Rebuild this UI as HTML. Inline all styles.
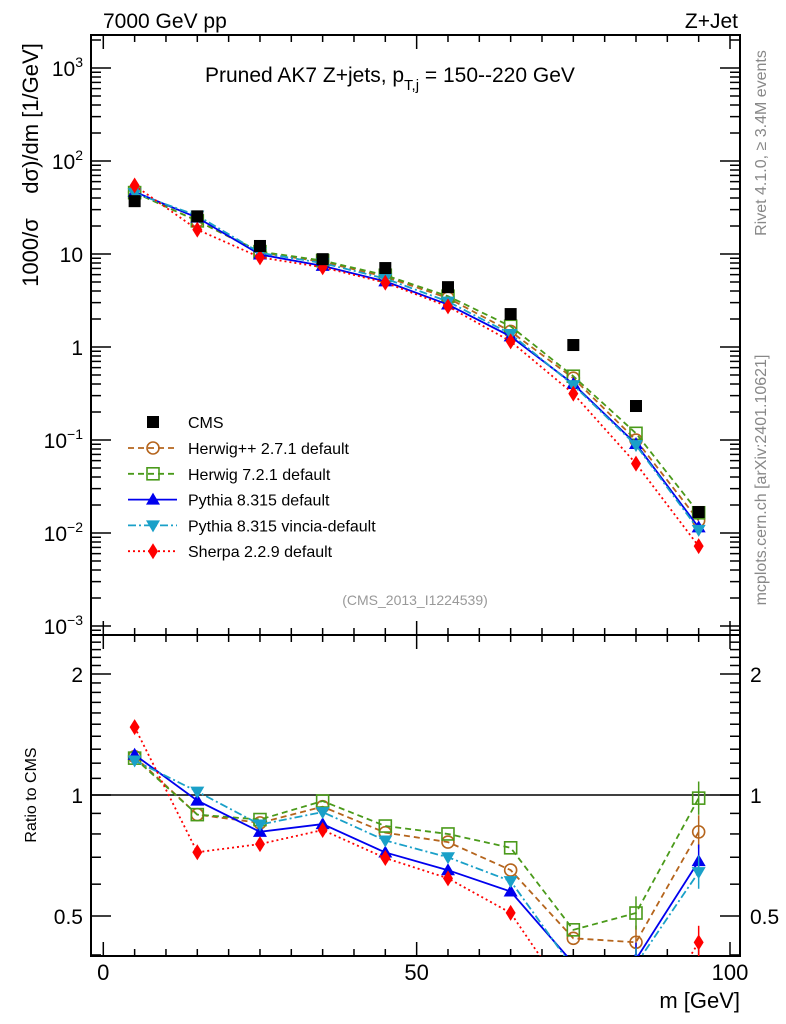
<!DOCTYPE html>
<html><head><meta charset="utf-8"><style>
html,body{margin:0;padding:0;background:#fff;}
svg{display:block;font-family:"Liberation Sans",sans-serif;}
</style></head><body>
<svg id="c" width="786" height="1024" viewBox="0 0 786 1024" xmlns="http://www.w3.org/2000/svg"></svg>
<script>
const binCenters=[5,15,25,35,45,55,65,75,85,95];
const cmsValues=[37,25.4,12.2,8.8,7.06,4.4,2.26,1.05,0.232,0.0168];
const herwigppValues=[46.1,22.7,10.4,8.23,5.69,3.36,1.47,0.462,0.0998,0.0136];
const herwig7Values=[45.7,22.7,10.6,8.5,5.91,3.52,1.67,0.485,0.118,0.0165];
const pythiaValues=[46.6,24.6,9.88,7.45,5.08,2.86,1.30,0.40,0.0905,0.0115];
const vinciaValues=[45.1,25.9,10.3,7.98,5.44,3.08,1.38,0.389,0.088,0.0108];
const sherpaValues=[54.6,18.3,9.21,7.2,4.92,2.73,1.15,0.315,0.0557,0.00722];
const mainTickExps=[3,2,1,0,-1,-2,-3];
const xTickLabels=[0,50,100];
const ratioTickLabels=[2,1,0.5];

const NS="http://www.w3.org/2000/svg";
const svg=document.getElementById('c');
function el(tag,attrs,parent){const e=document.createElementNS(NS,tag);for(const k in attrs)e.setAttribute(k,attrs[k]);(parent||svg).appendChild(e);return e;}

const L=91,R=740,T=35,MB=635,RB=956;
const sx=v=>103.3+(v)*6.267;
const syMain=v=>68-(Math.log10(v)-3)*93;
const syRatio=r=>795-Math.log2(r)*121;

const defs=el('defs',{});
const c1=el('clipPath',{id:'cm'},defs);el('rect',{x:L,y:T,width:R-L,height:MB-T},c1);
const c2=el('clipPath',{id:'cr'},defs);el('rect',{x:L,y:MB,width:R-L,height:RB-MB},c2);

let f=el('rect',{x:L,y:T,width:R-L,height:MB-T,fill:'none',stroke:'#000','stroke-width':2});

f=el('rect',{x:L,y:MB,width:R-L,height:RB-MB,fill:'none',stroke:'#000','stroke-width':2});


for(let v=0;v<=100;v+=5){
  const x=sx(v),len=(v%50===0)?14:7;
  for(const [yt,yb] of [[T,MB],[MB,RB]]){
    el('line',{x1:x,x2:x,y1:yt,y2:yt+len,stroke:'#000','stroke-width':1.5});
    el('line',{x1:x,x2:x,y1:yb,y2:yb-len,stroke:'#000','stroke-width':1.5});
  }
}
xTickLabels.forEach(v=>{
  const t=el('text',{x:sx(v),y:980,'font-size':22,'text-anchor':'middle'});t.textContent=v;
  
});
let t=el('text',{x:740,y:1008,'font-size':22,'text-anchor':'end'});t.textContent='m [GeV]';


for(let e=-4;e<=3;e++){
  for(let m=1;m<10;m++){
    const v=m*Math.pow(10,e),y=syMain(v);
    if(y<T||y>MB)continue;
    const len=m===1?20:10;
    el('line',{x1:L,x2:L+len,y1:y,y2:y,stroke:'#000','stroke-width':1.5});
    el('line',{x1:R,x2:R-len,y1:y,y2:y,stroke:'#000','stroke-width':1.5});
  }
}
mainTickExps.forEach(e=>{
  const y=syMain(Math.pow(10,e))+8;
  const g=el('text',{x:83,y:y,'font-size':21,'text-anchor':'end'});
  
  if(e===1)g.textContent='10';
  else if(e===0)g.textContent='1';
  else{g.textContent='10';const s=el('tspan',{dy:-9,'font-size':14},g);s.textContent=e<0?'\u2212'+(-e):e;}
});
for(let r=0.4;r<=2.5;r+=0.1){
  const y=syRatio(r);if(y<MB||y>RB)continue;
  const major=(Math.abs(r-1)<1e-6||Math.abs(r-2)<1e-6||Math.abs(r-0.5)<1e-6);
  const len=major?20:10;
  el('line',{x1:L,x2:L+len,y1:y,y2:y,stroke:'#000','stroke-width':1.5});
  el('line',{x1:R,x2:R-len,y1:y,y2:y,stroke:'#000','stroke-width':1.5});
}
ratioTickLabels.forEach(r=>{
  const y=syRatio(r)+8;
  let a=el('text',{x:83,y:y,'font-size':21,'text-anchor':'end'});a.textContent=r;
  
  a=el('text',{x:750,y:y,'font-size':21});a.textContent=r;
  
});
let ln=el('line',{x1:L,x2:R,y1:syRatio(1),y2:syRatio(1),stroke:'#000','stroke-width':1.5});


t=el('text',{x:103,y:28,'font-size':21});t.textContent='7000 GeV pp';

t=el('text',{x:738,y:28,'font-size':21,'text-anchor':'end'});t.textContent='Z+Jet';

t=el('text',{x:205,y:82,'font-size':21});t.textContent='Pruned AK7 Z+jets, p';
let sp=el('tspan',{dy:8,'font-size':15},t);sp.textContent='T,j';
sp=el('tspan',{dy:-8},t);sp.textContent=' = 150--220 GeV';

t=el('text',{x:415,y:605,'font-size':14,fill:'#999','text-anchor':'middle'});t.textContent='(CMS_2013_I1224539)';

t=el('text',{x:0,y:0,'font-size':22,'text-anchor':'middle','xml:space':'preserve',style:'white-space:pre',transform:'translate(38,165) rotate(-90)'});t.textContent='1000/\u03c3    d\u03c3)/dm [1/GeV]';

t=el('text',{x:0,y:0,'font-size':16,'text-anchor':'middle',transform:'translate(36,795) rotate(-90)'});t.textContent='Ratio to CMS';

t=el('text',{x:0,y:0,'font-size':16,fill:'#888','text-anchor':'middle',transform:'translate(766,143) rotate(-90)'});t.textContent='Rivet 4.1.0, \u2265 3.4M events';

t=el('text',{x:0,y:0,'font-size':16,fill:'#888','text-anchor':'middle',transform:'translate(766,480) rotate(-90)'});t.textContent='mcplots.cern.ch [arXiv:2401.10621]';


function marker(kind,x,y,color,parent,name){
  let m;
  if(kind==='sq')m=el('rect',{x:x-6,y:y-6,width:12,height:12,fill:'#000'},parent);
  else if(kind==='circ')m=el('circle',{cx:x,cy:y,r:6,fill:'none',stroke:color,'stroke-width':1.6},parent);
  else if(kind==='osq')m=el('rect',{x:x-6,y:y-6,width:12,height:12,fill:'none',stroke:color,'stroke-width':1.6},parent);
  else if(kind==='tri')m=el('path',{d:`M${x},${y-7}L${x+7},${y+5}L${x-7},${y+5}Z`,fill:color},parent);
  else if(kind==='itri')m=el('path',{d:`M${x},${y+7}L${x+7},${y-5}L${x-7},${y-5}Z`,fill:color},parent);
  else m=el('path',{d:`M${x},${y-8}L${x+5},${y}L${x},${y+8}L${x-5},${y}Z`,fill:color},parent);
  
  return m;
}
const series=[
  {vals:herwigppValues,color:'#b5651d',dash:'6,4',kind:'circ',label:'Herwig++ 2.7.1 default',key:'herwigpp'},
  {vals:herwig7Values,color:'#4a9a1a',dash:'6,4',kind:'osq',label:'Herwig 7.2.1 default',key:'herwig7'},
  {vals:pythiaValues,color:'#0000ee',dash:'',kind:'tri',label:'Pythia 8.315 default',key:'pythia'},
  {vals:vinciaValues,color:'#1aa0c8',dash:'8,3,2,3',kind:'itri',label:'Pythia 8.315 vincia-default',key:'vincia'},
  {vals:sherpaValues,color:'#ff0000',dash:'2,3',kind:'dia',label:'Sherpa 2.2.9 default',key:'sherpa'},
];
const gm=el('g',{'clip-path':'url(#cm)'});
const gr=el('g',{'clip-path':'url(#cr)'});
series.forEach(s=>{
  const pm=s.vals.map((v,i)=>`${sx(binCenters[i])},${syMain(v)}`).join(' ');
  let p=el('polyline',{points:pm,fill:'none',stroke:s.color,'stroke-width':1.8,'stroke-dasharray':s.dash},gm);
  
  const pr=s.vals.map((v,i)=>`${sx(binCenters[i])},${syRatio(v/cmsValues[i])}`).join(' ');
  p=el('polyline',{points:pr,fill:'none',stroke:s.color,'stroke-width':1.8,'stroke-dasharray':s.dash},gr);
  
  s.vals.forEach((v,i)=>{
    const x=sx(binCenters[i]);
    if(i>=8){const r=v/cmsValues[i];el('line',{x1:x,x2:x,y1:syRatio(r*1.1),y2:syRatio(r/1.1),stroke:s.color,'stroke-width':1.5},gr);}
    marker(s.kind,x,syMain(v),s.color,gm,s.key+'-main-point');
    marker(s.kind,x,syRatio(v/cmsValues[i]),s.color,gr,s.key+'-ratio-point');
  });
});
cmsValues.forEach((v,i)=>{marker('sq',sx(binCenters[i]),syMain(v),'#000',gm,'cms-data-point');});

const lg=el('g',{});
let ly=422;
marker('sq',153,ly,'#000',lg,'legend-marker-cms');
t=el('text',{x:188,y:ly+6,'font-size':16},lg);t.textContent='CMS';

series.forEach((s,k)=>{
  const y=448+k*25.8;
  el('line',{x1:128,x2:177,y1:y,y2:y,stroke:s.color,'stroke-width':1.8,'stroke-dasharray':s.dash},lg);
  marker(s.kind,153,y,s.color,lg,'legend-marker-'+s.key);
  const tt=el('text',{x:188,y:y+6,'font-size':16},lg);tt.textContent=s.label;
  
});
</script>
</body></html>
